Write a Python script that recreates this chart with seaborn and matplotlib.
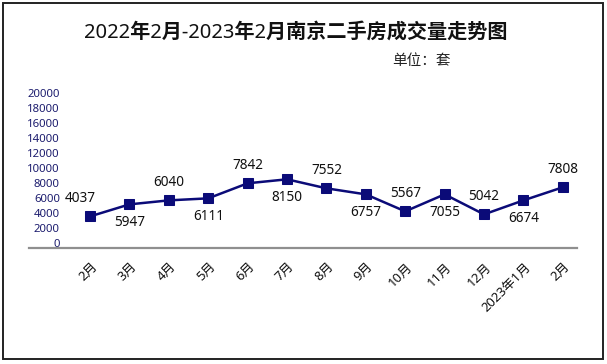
import matplotlib
matplotlib.use("Agg")
import matplotlib.pyplot as plt
import matplotlib.transforms as mtransforms
import seaborn as sns
import numpy as np
import pandas as pd
from matplotlib.patches import Rectangle

# ---- data ----
months = ["2月", "3月", "4月", "5月", "6月", "7月", "8月", "9月",
          "10月", "11月", "12月", "2023年1月", "2月"]
# plotted positions of the points
volumes = [3600, 5200, 5730, 6000, 8000, 8530, 7330, 6530,
           4270, 6530, 3870, 5730, 7470]
# data label texts shown beside the points
value_labels = ["4037", "5947", "6040", "6111", "7842", "8150", "7552",
                "6757", "5567", "7055", "5042", "6674", "7808"]
y_ticks = list(range(0, 20001, 2000))

title = "2022年2月-2023年2月南京二手房成交量走势图"
unit = "单位：套"

# ---- style ----
sns.set_theme(style="white")
plt.rcParams["font.family"] = ["Noto Sans", "Noto Sans CJK SC", "DejaVu Sans"]

W, H = 607, 364
DPI = 100
fig = plt.figure(figsize=(W / DPI, H / DPI), dpi=DPI)
fig.patch.set_facecolor("white")

left, right, top, bottom = 29, 577, 93, 248
ax = fig.add_axes([left / W, 1 - bottom / H, (right - left) / W, (bottom - top) / H])

df = pd.DataFrame({"idx": np.arange(len(months)), "v": volumes})
navy = "#0b0b78"
sns.lineplot(data=df, x="idx", y="v", ax=ax, color=navy, linewidth=1.8,
             marker="s", markersize=6.5, markeredgecolor=navy,
             markerfacecolor=navy)

ax.set_xlim(-1.55, len(months) - 1 + 0.36)
ax.set_ylim(-600, 20000)
ax.set_yticks(y_ticks)
ax.set_yticklabels([str(t) for t in y_ticks], fontsize=8.2, color="#1c1c6e")
ax.tick_params(axis="y", length=0, pad=-31 * 72 / DPI)
ax.set_xticks(df["idx"])
ax.set_xticklabels(months, rotation=45, ha="right", va="center",
                   rotation_mode="anchor", fontsize=9.4, color="#111111")
ax.tick_params(axis="x", length=0, pad=12)
shift = mtransforms.ScaledTranslation(5 / DPI, 0, fig.dpi_scale_trans)
for lbl in ax.get_xticklabels():
    lbl.set_transform(lbl.get_transform() + shift)
ax.set_xlabel("")
ax.set_ylabel("")
for s in ["top", "right", "left"]:
    ax.spines[s].set_visible(False)
ax.spines["bottom"].set_color("#8f8f8f")
ax.spines["bottom"].set_linewidth(1.6)
ax.grid(False)
ax.set_facecolor("white")

for i, (v, lab) in enumerate(zip(volumes, value_labels)):
    dy = 13 if i % 2 == 0 else -13
    dx = -7 if i == 0 else 0
    ax.annotate(lab, (i, v), xytext=(dx, dy), textcoords="offset points",
                ha="center", va="center", fontsize=9.8, color="#111111")

fig.text(296 / W, 1 - 33 / H, title, ha="center", va="center",
         fontsize=14.5, fontweight="bold", color="#111111")
fig.text(421 / W, 1 - 62 / H, unit, ha="center", va="center",
         fontsize=10.5, color="#222222")

fig.add_artist(Rectangle((3 / W, 1 - 359 / H), 600 / W, 356 / H,
                         transform=fig.transFigure, fill=False,
                         edgecolor="#222222", linewidth=1.4))

fig.savefig("out.png", dpi=DPI)
